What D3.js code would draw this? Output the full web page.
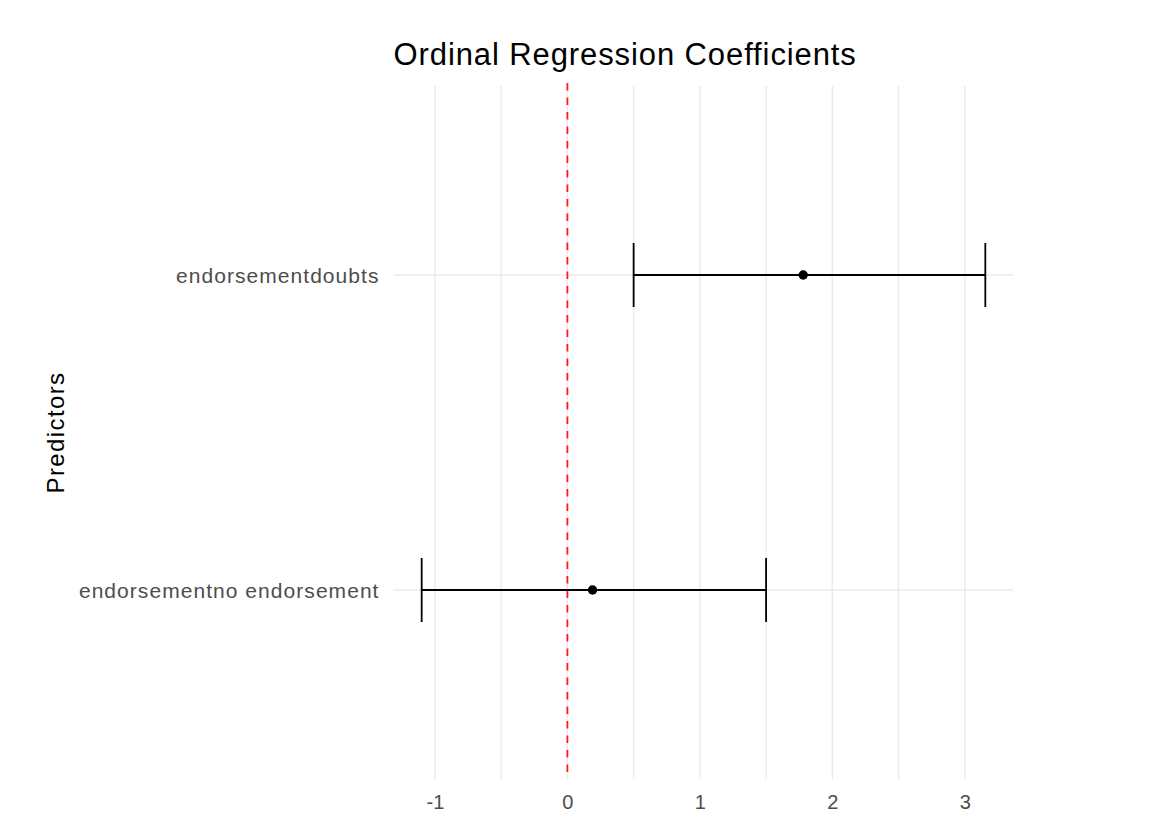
<!DOCTYPE html>
<html>
<head>
<meta charset="utf-8">
<script src="https://cdn.jsdelivr.net/npm/d3@7"></script>
<style>
  body { margin: 0; background: #ffffff; }
  svg { display: block; font-family: "Liberation Sans", Arial, sans-serif; }
</style>
</head>
<body>
<svg id="chart" width="1154" height="815"></svg>
<script>
// Ordinal regression coefficients with confidence intervals
const predictors = ["endorsementno endorsement", "endorsementdoubts"];
const estimates  = [0.19, 1.78];
const lowerCI    = [-1.10, 0.50];
const upperCI    = [1.50, 3.155];
const xTicks     = [-1, 0, 1, 2, 3];
const xMinor     = [-0.5, 0.5, 1.5, 2.5];
const titleText  = "Ordinal Regression Coefficients";
const yTitle     = "Predictors";

const rows = predictors.map((p, i) => ({
  name: p, est: estimates[i], lo: lowerCI[i], hi: upperCI[i]
}));

const svg = d3.select("#chart");
const panel = { left: 393.5, right: 1013.5, top: 86, bottom: 779 };

// x scale with 5% expansion on each side
const xmin = d3.min(lowerCI), xmax = d3.max(upperCI);
const pad = (xmax - xmin) * 0.05;
const x = d3.scaleLinear()
  .domain([xmin - pad, xmax + pad])
  .range([panel.left, panel.right]);

// discrete y positions: 1 and 2 with 0.6 expansion
const y = d3.scaleLinear()
  .domain([0.4, 2.6])
  .range([panel.bottom, panel.top]);
const yPos = d => y(predictors.indexOf(d) + 1);

const grid = svg.append("g").attr("stroke", "#ebebeb").attr("stroke-width", 1.4);

// vertical gridlines (minor + major)
grid.selectAll("line.vminor").data(xMinor).join("line")
  .attr("x1", d => x(d)).attr("x2", d => x(d))
  .attr("y1", panel.top).attr("y2", panel.bottom);
grid.selectAll("line.vmajor").data(xTicks).join("line")
  .attr("x1", d => x(d)).attr("x2", d => x(d))
  .attr("y1", panel.top).attr("y2", panel.bottom);

// horizontal gridlines at each predictor
grid.selectAll("line.h").data(predictors).join("line")
  .attr("x1", panel.left).attr("x2", panel.right)
  .attr("y1", d => yPos(d)).attr("y2", d => yPos(d));

// reference line at zero
svg.append("line")
  .attr("x1", x(0)).attr("x2", x(0))
  .attr("y1", panel.top - 3).attr("y2", panel.bottom)
  .attr("stroke", "#ff1a1a").attr("stroke-width", 1.8)
  .attr("stroke-dasharray", "7.5,7");

// error bars
const capHalf = 32;
const bars = svg.append("g").attr("stroke", "#000").attr("stroke-width", 1.8);
rows.forEach(r => {
  const cy = yPos(r.name);
  bars.append("line").attr("x1", x(r.lo)).attr("x2", x(r.hi)).attr("y1", cy).attr("y2", cy);
  bars.append("line").attr("x1", x(r.lo)).attr("x2", x(r.lo)).attr("y1", cy - capHalf).attr("y2", cy + capHalf);
  bars.append("line").attr("x1", x(r.hi)).attr("x2", x(r.hi)).attr("y1", cy - capHalf).attr("y2", cy + capHalf);
});

// point estimates
svg.append("g").selectAll("circle").data(rows).join("circle")
  .attr("cx", d => x(d.est)).attr("cy", d => yPos(d.name))
  .attr("r", 4.7).attr("fill", "#000");

// x axis labels
const xAxis = d3.axisBottom(x).tickValues(xTicks).tickSize(0).tickPadding(0)
  .tickFormat(d => String(d));
const gx = svg.append("g").attr("transform", `translate(0,${panel.bottom + 30})`).call(xAxis);
gx.select(".domain").remove();
gx.selectAll("text").attr("fill", "#4d4d4d").attr("font-size", 20)
  .attr("font-family", "Liberation Sans, Arial, sans-serif")
  .attr("dy", 0).attr("y", 0);

// y axis labels
svg.append("g").selectAll("text").data(predictors).join("text")
  .attr("x", panel.left - 14).attr("y", d => yPos(d))
  .attr("dy", "0.36em").attr("text-anchor", "end")
  .attr("fill", "#4d4d4d").attr("font-size", 21).attr("letter-spacing", 1.05)
  .text(d => d);

// y title
svg.append("text")
  .attr("transform", `translate(64,${(panel.top + panel.bottom) / 2}) rotate(-90)`)
  .attr("text-anchor", "middle").attr("font-size", 24).attr("letter-spacing", 1.4)
  .attr("fill", "#000")
  .text(yTitle);

// title
svg.append("text")
  .attr("x", panel.left).attr("y", 65)
  .attr("font-size", 31).attr("letter-spacing", 0.9).attr("fill", "#000")
  .text(titleText);
</script>
</body>
</html>
